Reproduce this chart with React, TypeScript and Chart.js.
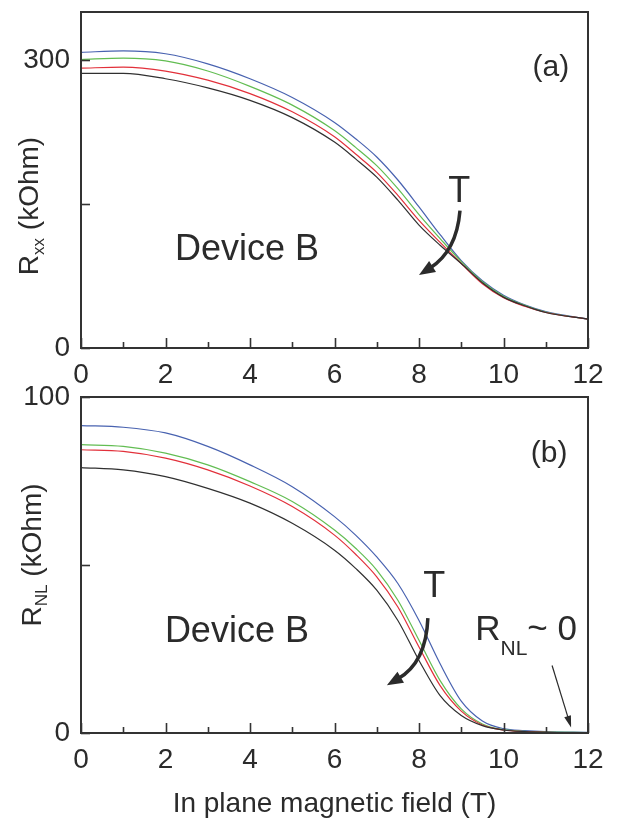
import React, { useEffect, useRef } from 'react';
import { Chart, registerables } from 'chart.js';

Chart.register(...registerables);

// ---------- data ----------
const fieldT = [0, 1, 2, 3, 4, 5, 6, 6.5, 7, 7.5, 8, 8.5, 9, 9.5, 10, 10.5, 11, 12];

const rxxBlue = [308, 309.5, 306.5, 296, 280.5, 261, 235, 218, 199, 175, 147, 118, 91, 70, 55, 45, 38, 30];
const rxxGreen = [300.5, 302, 299, 288.5, 272.5, 253, 226.5, 209, 190, 166, 139, 114, 90, 69, 54, 44.5, 37.5, 30];
const rxxRed = [291.5, 292.5, 288.5, 279, 265, 246, 220, 202, 183, 159, 133, 110, 88, 67, 52.5, 43.5, 37, 30];
const rxxBlack = [286, 286, 280.5, 271, 258, 240, 214.5, 197, 178, 154, 128, 107, 88, 68, 53, 44, 37, 30];

const rnlBlue = [91.5, 91, 89.3, 85.3, 79.8, 73.3, 64.4, 58.9, 52.4, 44.5, 33.5, 20.6, 9.5, 3.6, 1.3, 0.7, 0.4, 0.2];
const rnlGreen = [85.8, 85.3, 83.3, 79.8, 74.8, 68.9, 60.4, 55, 48.5, 39.5, 27.6, 15.6, 7.2, 2.7, 1.0, 0.5, 0.3, 0.1];
const rnlRed = [84.3, 83.8, 81.8, 78.3, 73.5, 67.4, 58.9, 53.2, 46.5, 37.5, 25.6, 14.1, 6.5, 2.4, 0.9, 0.4, 0.2, 0.1];
const rnlBlack = [79, 78.3, 76.3, 72.8, 68.4, 62.4, 54.4, 49, 42.5, 33.5, 21.6, 11.1, 5.2, 2.2, 0.9, 0.4, 0.2, 0.1];

const xTickValues = [0, 2, 4, 6, 8, 10, 12];
const rxxTickValues = [0, 150, 300];
const rxxTickLabels = [0, 300];
const rnlTickValues = [0, 50, 100];
const rnlTickLabels = [0, 100];

const xTitle = 'In plane magnetic field (T)';

// ---------- styling ----------
const FONT = '"Liberation Sans", Arial, Helvetica, sans-serif';
const INK = '#2b2b2b';
const FRAME = '#333333';
const COLORS = { blue: '#4862b0', green: '#62bd52', red: '#e2303a', black: '#303030' };

type Run = { t: string; size: number; dy?: number };

function runsWidth(ctx: CanvasRenderingContext2D, runs: Run[]) {
  let w = 0;
  for (const r of runs) {
    ctx.font = `${r.size}px ${FONT}`;
    w += ctx.measureText(r.t).width;
  }
  return w;
}

function drawRuns(ctx: CanvasRenderingContext2D, runs: Run[], x: number, baseline: number, align: 'center' | 'left') {
  const total = runsWidth(ctx, runs);
  let cx = align === 'center' ? x - total / 2 : x;
  ctx.textAlign = 'left';
  ctx.textBaseline = 'alphabetic';
  for (const r of runs) {
    ctx.font = `${r.size}px ${FONT}`;
    ctx.fillText(r.t, cx, baseline + (r.dy || 0));
    cx += ctx.measureText(r.t).width;
  }
}

function drawArrowHead(ctx: CanvasRenderingContext2D, tipX: number, tipY: number, fromX: number, fromY: number, len: number, half: number) {
  const ang = Math.atan2(tipY - fromY, tipX - fromX);
  const bx = tipX - len * Math.cos(ang);
  const by = tipY - len * Math.sin(ang);
  ctx.beginPath();
  ctx.moveTo(tipX, tipY);
  ctx.lineTo(bx + half * Math.sin(ang), by - half * Math.cos(ang));
  ctx.lineTo(bx - half * Math.sin(ang), by + half * Math.cos(ang));
  ctx.closePath();
  ctx.fill();
}

const decorPlugin = {
  id: 'decor',
  afterDraw(chart: any, _args: any, opts: any) {
    const ctx: CanvasRenderingContext2D = chart.ctx;
    const { left, right, top, bottom } = chart.chartArea;
    const xs = chart.scales.x;
    const ys = chart.scales.y;
    ctx.save();
    // frame
    ctx.strokeStyle = FRAME;
    ctx.lineWidth = 2;
    ctx.strokeRect(left, top, right - left, bottom - top);
    // inward ticks on x
    ctx.lineWidth = 1.6;
    for (let v = 0; v <= 12; v++) {
      const px = Math.round(xs.getPixelForValue(v)) + 0.5;
      const len = v % 2 === 0 ? 10 : 6;
      ctx.beginPath();
      ctx.moveTo(px, bottom);
      ctx.lineTo(px, bottom - len);
      ctx.stroke();
    }
    // inward ticks on y
    for (const v of opts.yTicks) {
      const py = Math.round(ys.getPixelForValue(v)) + 0.5;
      ctx.beginPath();
      ctx.moveTo(left, py);
      ctx.lineTo(left + 9, py);
      ctx.stroke();
    }
    ctx.fillStyle = INK;
    ctx.strokeStyle = INK;
    // y title (rotated)
    const yt = opts.yTitle;
    ctx.save();
    ctx.translate(yt.x + 0.358 * 28, yt.cy);
    ctx.rotate(-Math.PI / 2);
    drawRuns(ctx, yt.runs, 0, 0, 'center');
    ctx.restore();
    // x title
    if (opts.xTitle) {
      drawRuns(ctx, [{ t: opts.xTitle, size: 28 }], (left + right) / 2, bottom + 69 + 0.358 * 28, 'center');
    }
    // annotation texts
    for (const a of opts.texts) {
      const px = xs.getPixelForValue(a.x);
      const py = ys.getPixelForValue(a.y);
      drawRuns(ctx, a.runs, px, py + 0.358 * a.runs[0].size, a.align || 'center');
    }
    // arrows
    for (const ar of opts.arrows) {
      const p0x = xs.getPixelForValue(ar.p0[0]);
      const p0y = ys.getPixelForValue(ar.p0[1]);
      const p2x = xs.getPixelForValue(ar.p1[0]);
      const p2y = ys.getPixelForValue(ar.p1[1]);
      const cx = ar.c ? xs.getPixelForValue(ar.c[0]) : (p0x + p2x) / 2;
      const cy = ar.c ? ys.getPixelForValue(ar.c[1]) : (p0y + p2y) / 2;
      const ang = Math.atan2(p2y - cy, p2x - cx);
      const ex = p2x - ar.head[0] * 0.8 * Math.cos(ang);
      const ey = p2y - ar.head[0] * 0.8 * Math.sin(ang);
      ctx.lineWidth = ar.width;
      ctx.lineCap = 'butt';
      ctx.beginPath();
      ctx.moveTo(p0x, p0y);
      ctx.quadraticCurveTo(cx, cy, ex, ey);
      ctx.stroke();
      drawArrowHead(ctx, p2x, p2y, cx, cy, ar.head[0], ar.head[1]);
    }
    ctx.restore();
  },
};

function buildConfig(opts: {
  series: { data: number[]; color: string }[];
  yMax: number;
  yTicks: number[];
  yLabeled: number[];
  decor: any;
}): any {
  return {
    type: 'line',
    data: {
      datasets: opts.series.map((s) => ({
        data: fieldT.map((x, i) => ({ x, y: s.data[i] })),
        borderColor: s.color,
        borderWidth: 1.2,
        pointRadius: 0,
        fill: false,
        cubicInterpolationMode: 'monotone',
      })),
    },
    options: {
      responsive: false,
      animation: false,
      events: [],
      layout: { padding: { left: 0, top: 12, right: 29, bottom: 0 } },
      plugins: {
        legend: { display: false },
        tooltip: { enabled: false },
        decor: opts.decor,
      },
      scales: {
        x: {
          type: 'linear',
          min: 0,
          max: 12,
          grid: { display: false, drawTicks: false },
          border: { display: false },
          afterBuildTicks: (s: any) => {
            s.ticks = xTickValues.map((v) => ({ value: v }));
          },
          ticks: {
            autoSkip: false,
            maxRotation: 0,
            padding: 10,
            color: INK,
            font: { family: FONT, size: 28 },
          },
          afterFit: (s: any) => {
            s.height = 433 - 348;
            s.paddingLeft = 0;
            s.paddingRight = 0;
          },
        },
        y: {
          type: 'linear',
          min: 0,
          max: opts.yMax,
          grid: { display: false, drawTicks: false },
          border: { display: false },
          afterBuildTicks: (s: any) => {
            s.ticks = opts.yTicks.map((v) => ({ value: v }));
          },
          ticks: {
            autoSkip: false,
            padding: 11,
            color: INK,
            font: { family: FONT, size: 28 },
            callback: (v: any) => (opts.yLabeled.includes(Number(v)) ? String(v) : ''),
          },
          afterFit: (s: any) => {
            s.width = 81;
            s.paddingTop = 0;
            s.paddingBottom = 0;
          },
        },
      },
    },
    plugins: [decorPlugin],
  };
}

const topConfig = () =>
  buildConfig({
    series: [
      { data: rxxBlack, color: COLORS.black },
      { data: rxxRed, color: COLORS.red },
      { data: rxxGreen, color: COLORS.green },
      { data: rxxBlue, color: COLORS.blue },
    ],
    yMax: 350,
    yTicks: rxxTickValues,
    yLabeled: rxxTickLabels,
    decor: {
      yTicks: rxxTickValues,
      yTitle: {
        x: 28,
        cy: 206,
        runs: [
          { t: 'R', size: 28 },
          { t: 'xx', size: 17, dy: 6 },
          { t: ' (kOhm)', size: 28 },
        ],
      },
      texts: [
        { x: 11.12, y: 295, runs: [{ t: '(a)', size: 30 }] },
        { x: 3.93, y: 105, runs: [{ t: 'Device B', size: 36 }] },
        { x: 8.95, y: 166, runs: [{ t: 'T', size: 36 }] },
      ],
      arrows: [{ p0: [8.97, 143], c: [8.89, 100.5], p1: [8.0, 76], width: 3.5, head: [16, 6.5] }],
    },
  });

const bottomConfig = () =>
  buildConfig({
    series: [
      { data: rnlBlack, color: COLORS.black },
      { data: rnlRed, color: COLORS.red },
      { data: rnlGreen, color: COLORS.green },
      { data: rnlBlue, color: COLORS.blue },
    ],
    yMax: 100,
    yTicks: rnlTickValues,
    yLabeled: rnlTickLabels,
    decor: {
      yTicks: rnlTickValues,
      xTitle,
      yTitle: {
        x: 31,
        cy: 170,
        runs: [
          { t: 'R', size: 28 },
          { t: 'NL', size: 17, dy: 6 },
          { t: ' (kOhm)', size: 28 },
        ],
      },
      texts: [
        { x: 11.08, y: 84, runs: [{ t: '(b)', size: 30 }] },
        { x: 3.69, y: 31, runs: [{ t: 'Device B', size: 36 }] },
        { x: 8.36, y: 44.2, runs: [{ t: 'T', size: 36 }] },
        {
          x: 9.33,
          y: 31.3,
          align: 'left',
          runs: [
            { t: 'R', size: 35 },
            { t: 'NL', size: 21, dy: 15 },
            { t: '~ 0', size: 35 },
          ],
        },
      ],
      arrows: [
        { p0: [8.21, 34.2], c: [8.17, 21.0], p1: [7.24, 14.2], width: 3.5, head: [16, 6.5] },
        { p0: [11.15, 20.1], p1: [11.6, 1.6], width: 1.2, head: [12, 3.5] },
      ],
    },
  });

function Panel({ top, make }: { top: number; make: () => any }) {
  const ref = useRef<HTMLCanvasElement>(null);
  useEffect(() => {
    const chart = new Chart(ref.current as HTMLCanvasElement, make());
    return () => chart.destroy();
  }, []);
  return (
    <canvas
      ref={ref}
      width={617}
      height={433}
      style={{ position: 'absolute', left: 0, top, width: 617, height: 433 }}
    />
  );
}

export default function App() {
  return (
    <div style={{ position: 'fixed', left: 0, top: 0, width: 617, height: 818, background: '#fff', overflow: 'hidden' }}>
      <Panel top={0} make={topConfig} />
      <Panel top={385} make={bottomConfig} />
    </div>
  );
}
